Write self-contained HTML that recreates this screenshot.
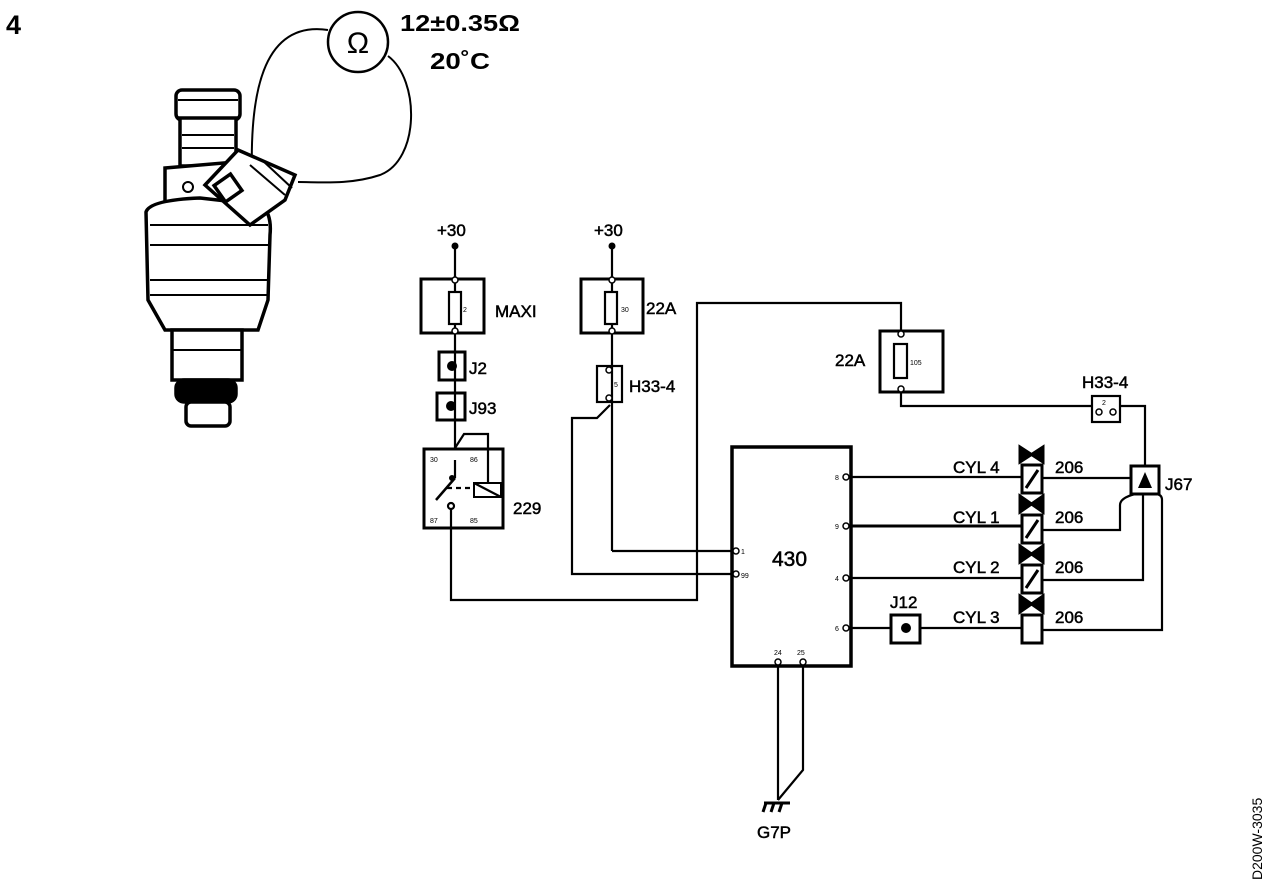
<!DOCTYPE html>
<html><head><meta charset="utf-8"><style>
html,body{margin:0;padding:0;background:#fff;}
svg{display:block;}
text{font-family:"Liberation Sans",sans-serif;fill:#000;}
.b{font-weight:bold;}
</style></head><body>
<svg width="1280" height="888" viewBox="0 0 1280 888" xmlns="http://www.w3.org/2000/svg">
<g fill="none" stroke="#000">
<circle cx="358" cy="42" r="30" stroke-width="2.5"/>
<path d="M328,30 C260,20 250,100 252,175" stroke-width="2"/>
<path d="M388,56 C420,80 420,160 380,175 C350,185 320,182 298,182" stroke-width="2"/>
<!-- injector -->
<g stroke-width="3.5" fill="#fff">
<rect x="176" y="90" width="64" height="30" rx="6"/>
<rect x="180" y="118" width="56" height="48"/>
<path d="M165,168 L235,162 L260,180 L265,215 L165,215 Z"/>
<path d="M146,212 Q150,200 200,198 L262,205 Q272,215 270,235 L268,300 L258,330 L165,330 L148,300 Z"/>
<rect x="172" y="330" width="70" height="50"/>
<rect x="176" y="380" width="60" height="22" rx="8" fill="#000"/>
<rect x="186" y="402" width="44" height="24" rx="5"/>
<path d="M205,185 L238,150 L295,175 L285,200 L250,225 Z"/>
<rect x="218" y="178" width="20" height="20" transform="rotate(-35 228 188)"/>
</g>
<g stroke-width="2">
<line x1="178" y1="100" x2="238" y2="100"/><line x1="182" y1="135" x2="234" y2="135"/><line x1="182" y1="148" x2="234" y2="148"/>
<line x1="150" y1="225" x2="268" y2="225"/><line x1="150" y1="245" x2="268" y2="245"/>
<line x1="150" y1="280" x2="268" y2="280"/><line x1="150" y1="295" x2="268" y2="295"/>
<line x1="172" y1="350" x2="242" y2="350"/>
<line x1="250" y1="165" x2="285" y2="195"/><line x1="262" y1="160" x2="292" y2="188"/>
<circle cx="188" cy="187" r="5"/>
</g>
<g stroke-width="2.2">
<line x1="455" y1="246" x2="455" y2="448"/>
<rect x="421" y="279" width="63" height="54" stroke-width="3"/>
<rect x="449" y="292" width="12" height="32" fill="#fff"/>
<rect x="439" y="352" width="26" height="28" stroke-width="3"/>
<rect x="437" y="393" width="28" height="27" stroke-width="3"/>
<rect x="424" y="449" width="79" height="79" stroke-width="3"/>
<path d="M455,448 L464,434 L488,434 L488,484"/>
<line x1="455" y1="460" x2="455" y2="478"/>
<line x1="455" y1="478" x2="436" y2="500" stroke-width="2.5"/>
<rect x="474" y="483" width="27" height="14" stroke-width="2"/>
<line x1="474" y1="483" x2="501" y2="497"/>
<line x1="447" y1="488" x2="470" y2="488" stroke-dasharray="5,4"/>
<circle cx="451" cy="506" r="3" fill="#fff"/>
<path d="M451,509 L451,600 L697,600 L697,303 L901,303 L901,331"/>
<line x1="612" y1="246" x2="612" y2="551"/>
<rect x="581" y="279" width="62" height="54" stroke-width="3"/>
<rect x="605" y="292" width="12" height="32" fill="#fff"/>
<rect x="597" y="366" width="25" height="36"/>
<line x1="612" y1="551" x2="731" y2="551"/>
<path d="M610,405 L597,418 L572,418 L572,574 L731,574"/>
<rect x="732" y="447" width="119" height="219" stroke-width="3.5"/>
<line x1="851" y1="477" x2="1022" y2="477"/>
<line x1="851" y1="526" x2="1022" y2="526" stroke-width="3"/>
<line x1="851" y1="578" x2="1022" y2="578"/>
<line x1="851" y1="628" x2="1022" y2="628"/>
<rect x="891" y="615" width="29" height="28" stroke-width="3" fill="#fff"/>
<line x1="778" y1="666" x2="778" y2="800"/>
<path d="M803,666 L803,770 L778,800"/>
<path d="M764,803 L790,803 M766,803 L763,812 M774,803 L771,812 M782,803 L779,812" stroke-width="3"/>
<rect x="880" y="331" width="63" height="61" stroke-width="3"/>
<rect x="894" y="344" width="13" height="34" fill="#fff"/>
<path d="M901,392 L901,406 L1092,406"/>
<rect x="1092" y="396" width="28" height="26"/>
<path d="M1120,406 L1145,406 L1145,466"/>
<rect x="1131" y="466" width="28" height="28" stroke-width="3"/>
<line x1="1043" y1="478" x2="1131" y2="478"/>
<path d="M1043,530 L1120,530 L1120,505 Q1120,498 1135,494"/>
<path d="M1043,580 L1143,580 L1143,494"/>
<path d="M1043,630 L1162,630 L1162,500 Q1162,494 1155,494"/>
</g>
<g stroke-width="3">
<path d="M1020,447 L1020,462 L1043,447 L1043,462 Z" fill="#000"/>
<rect x="1022" y="465" width="20" height="28" fill="#fff"/><line x1="1026" y1="488" x2="1038" y2="470"/>
<path d="M1020,496 L1020,512 L1043,496 L1043,512 Z" fill="#000"/>
<rect x="1022" y="515" width="20" height="28" fill="#fff"/><line x1="1026" y1="538" x2="1038" y2="520"/>
<path d="M1020,546 L1020,562 L1043,546 L1043,562 Z" fill="#000"/>
<rect x="1022" y="565" width="20" height="28" fill="#fff"/><line x1="1026" y1="588" x2="1038" y2="570"/>
<path d="M1020,596 L1020,612 L1043,596 L1043,612 Z" fill="#000"/>
<rect x="1022" y="615" width="20" height="28" fill="#fff"/>
</g>
<g stroke-width="1.5" fill="#fff">
<circle cx="455" cy="280" r="3"/><circle cx="455" cy="331" r="3"/>
<circle cx="612" cy="280" r="3"/><circle cx="612" cy="331" r="3"/>
<circle cx="609" cy="370" r="3"/><circle cx="609" cy="398" r="3"/>
<circle cx="901" cy="334" r="3"/><circle cx="901" cy="389" r="3"/>
<circle cx="736" cy="551" r="3"/><circle cx="736" cy="574" r="3"/>
<circle cx="846" cy="477" r="3"/><circle cx="846" cy="526" r="3"/><circle cx="846" cy="578" r="3"/><circle cx="846" cy="628" r="3"/>
<circle cx="778" cy="662" r="3"/><circle cx="803" cy="662" r="3"/>
<circle cx="1099" cy="412" r="3"/><circle cx="1113" cy="412" r="3"/>
</g>
</g>
<g fill="#000">
<circle cx="455" cy="246" r="3.5"/><circle cx="612" cy="246" r="3.5"/>
<circle cx="452" cy="366" r="5"/><circle cx="451" cy="406" r="5"/>
<circle cx="906" cy="628" r="5"/>
<path d="M1145,472 L1152,488 L1138,488 Z"/>
<circle cx="452" cy="478" r="3"/>
</g>
<text x="6" y="34" class="b" font-size="27">4</text>
<text x="358" y="53" font-size="30" text-anchor="middle" font-family="DejaVu Sans">Ω</text>
<text x="400" y="31" class="b" font-size="23" textLength="120" lengthAdjust="spacingAndGlyphs">12±0.35Ω</text>
<text x="430" y="69" class="b" font-size="23" textLength="60" lengthAdjust="spacingAndGlyphs">20˚C</text>
<g font-size="17" stroke="#000" stroke-width="0.5">
<text x="437" y="236">+30</text><text x="594" y="236">+30</text>
<text x="495" y="317">MAXI</text>
<text x="469" y="374">J2</text><text x="469" y="414">J93</text>
<text x="513" y="514">229</text>
<text x="646" y="314">22A</text>
<text x="629" y="392">H33-4</text>
<text x="835" y="366">22A</text>
<text x="1082" y="388">H33-4</text>
<text x="1165" y="490">J67</text>
<text x="953" y="473">CYL 4</text><text x="953" y="523">CYL 1</text><text x="953" y="573">CYL 2</text><text x="953" y="623">CYL 3</text>
<text x="1055" y="473">206</text><text x="1055" y="523">206</text><text x="1055" y="573">206</text><text x="1055" y="623">206</text>
<text x="890" y="608">J12</text>
<text x="757" y="838">G7P</text>
</g>
<text x="772" y="566" font-size="21" stroke="#000" stroke-width="0.5">430</text>
<g font-size="7">
<text x="430" y="462">30</text><text x="470" y="462">86</text><text x="430" y="523">87</text><text x="470" y="523">85</text>
<text x="463" y="312">2</text><text x="621" y="312">30</text><text x="614" y="387">5</text><text x="910" y="365">105</text>
<text x="1102" y="405">2</text>
<text x="741" y="554">1</text><text x="741" y="578">99</text>
<text x="835" y="480">8</text><text x="835" y="529">9</text><text x="835" y="581">4</text><text x="835" y="631">6</text>
<text x="774" y="655">24</text><text x="797" y="655">25</text>
</g>
<text transform="translate(1262,880) rotate(-90)" font-size="14">D200W-3035</text>
</svg>
</body></html>
